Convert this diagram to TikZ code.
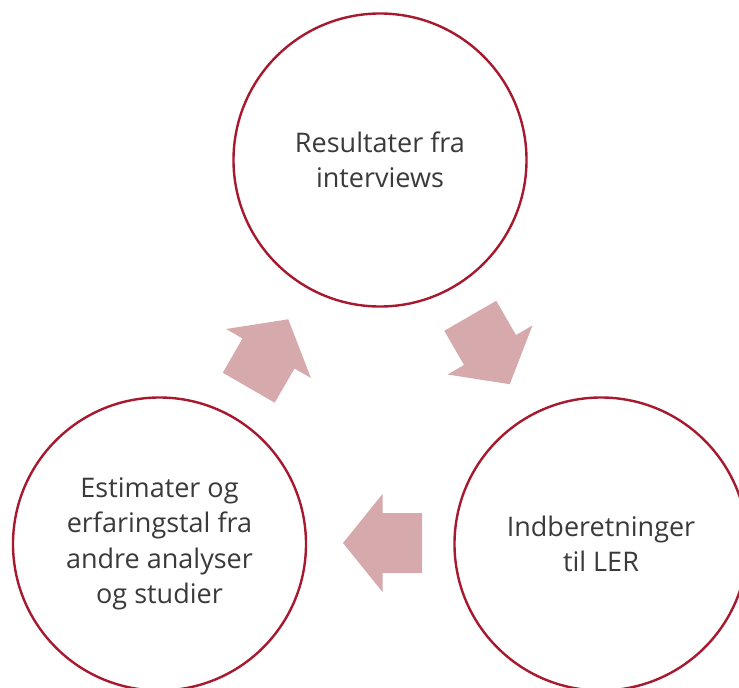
\documentclass[tikz,border=0pt]{standalone}
\usepackage{fontspec}
\setmainfont{Open Sans}
\definecolor{ringred}{HTML}{A6192E}
\definecolor{arrowpink}{HTML}{D6A9AC}
\definecolor{txtgray}{HTML}{3A3A3A}
\begin{document}
\begin{tikzpicture}[x=1pt,y=-1pt,
  ring/.style={circle,draw=ringred,line width=2.4pt,minimum size=293pt,inner sep=0pt,
    align=center,text=txtgray,font=\fontsize{27}{35.5}\selectfont},
  fatarrow/.style={fill=arrowpink,draw=none}]
\useasboundingbox (0,0) rectangle (739,688);
\clip (0,0) rectangle (739,688);
\node[ring] (res) at (380,160) {Resultater fra\\interviews};
\node[ring] (est) at (159.5,544) {Estimater og\\erfaringstal fra\\andre analyser\\og studier};
\node[ring] (ind) at (601,544) {Indberetninger\\til LER};
\foreach \cx/\cy/\ang in {268.5/353.5/60, 490/350/-60, 382.5/543/180}{
  \fill[fatarrow,shift={(\cx,\cy)},rotate=\ang]
    (-39.5,-30) -- (0,-30) -- (0,-49) -- (39.5,0) -- (0,49) -- (0,30) -- (-39.5,30) -- cycle;
}
\end{tikzpicture}
\end{document}
